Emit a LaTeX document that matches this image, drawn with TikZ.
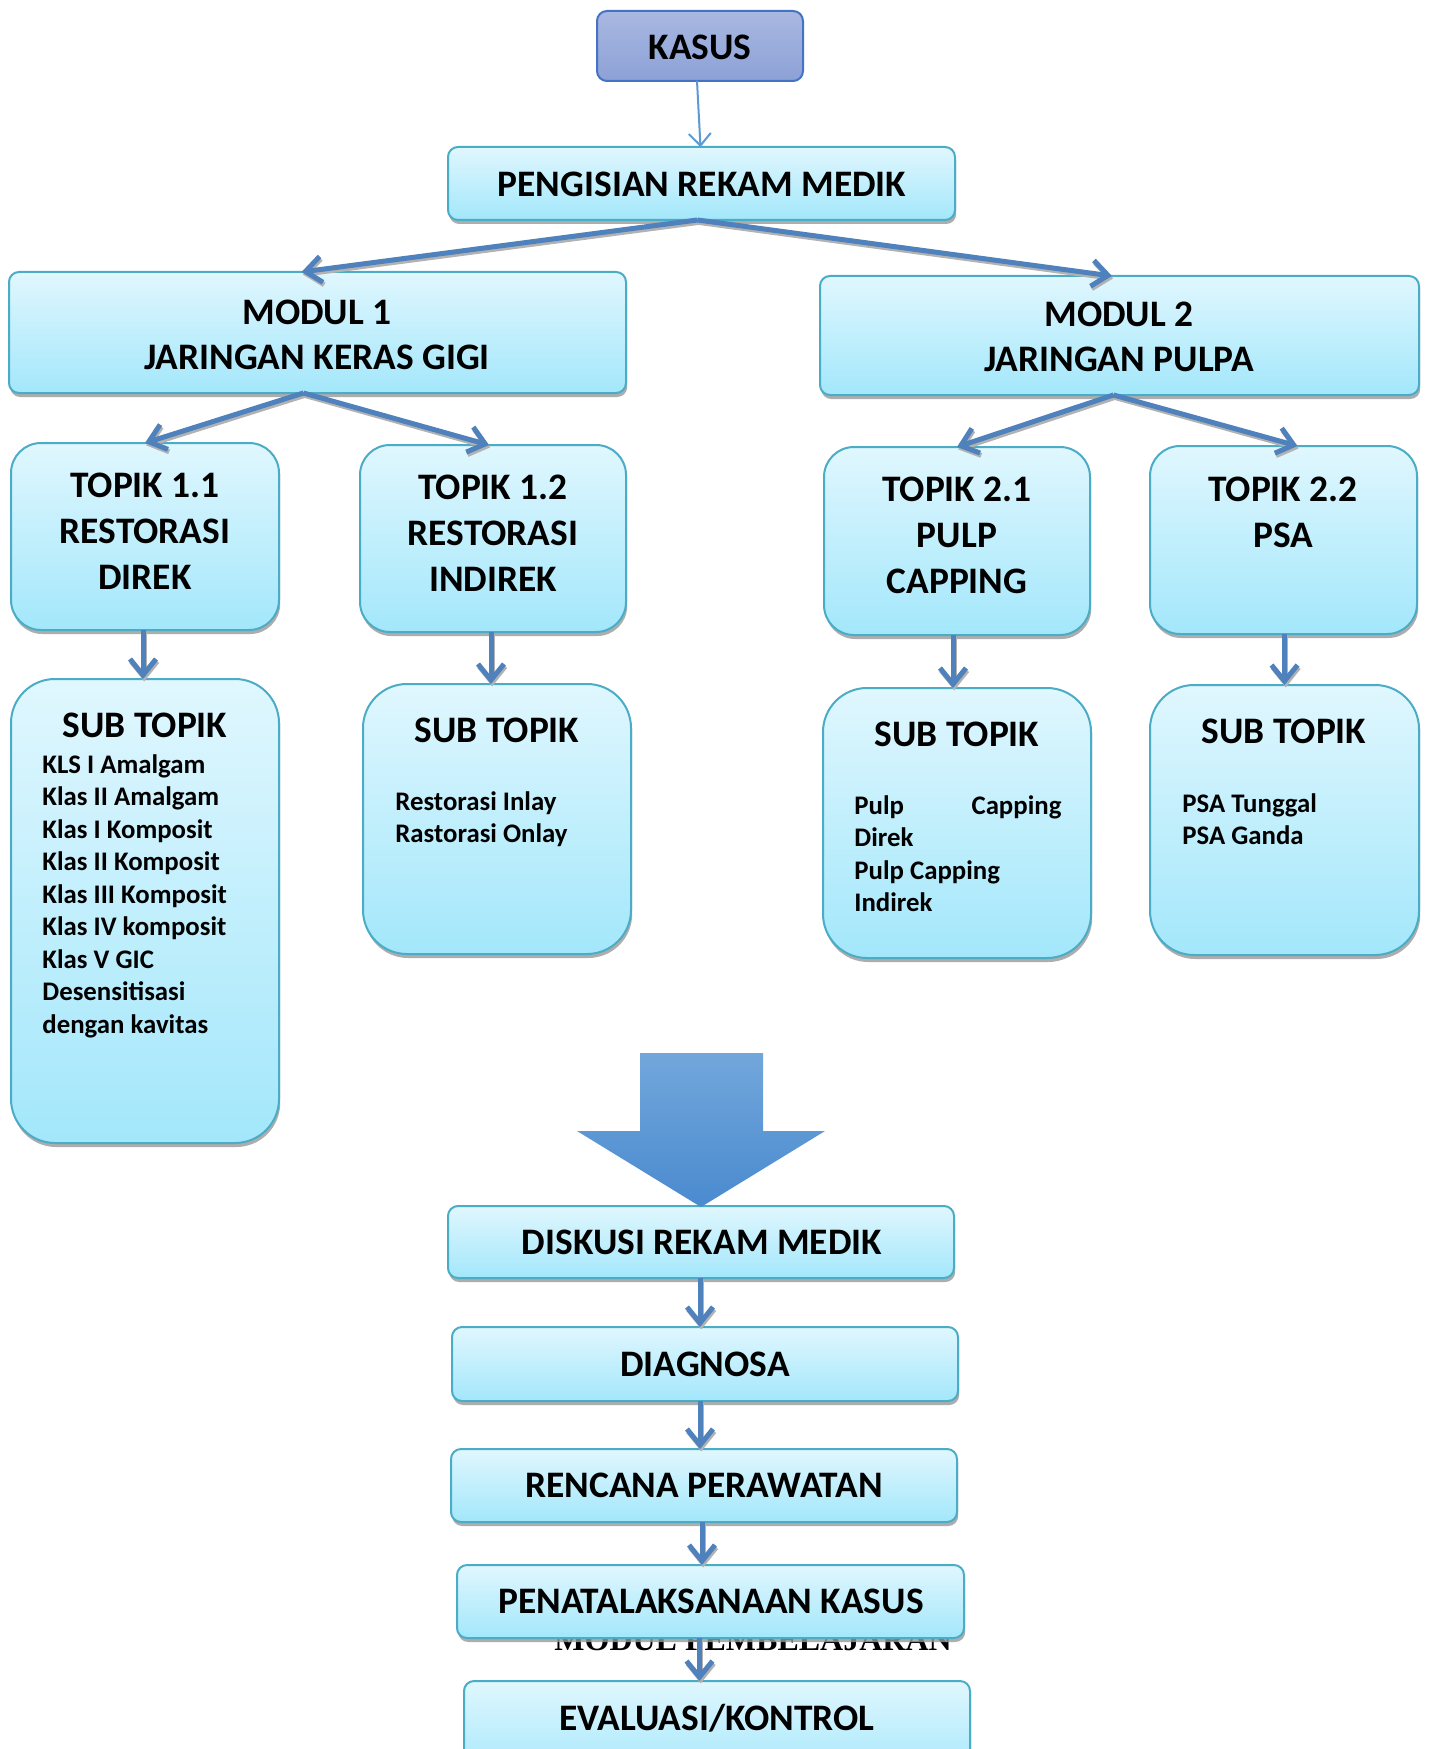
\documentclass[tikz,border=0pt]{standalone}
\usepackage{fontspec}
\setmainfont{Carlito}
\newfontfamily\serifbold{Liberation Serif}
\usetikzlibrary{arrows.meta,shadows,fit,calc}
\definecolor{boxtop}{HTML}{E0F7FE}
\definecolor{boxbot}{HTML}{A3E7FB}
\definecolor{boxline}{HTML}{4BACC6}
\definecolor{arrowblue}{HTML}{4F81BD}
\definecolor{kastop}{HTML}{A9B8E1}
\definecolor{kasbot}{HTML}{8CA1D7}
\definecolor{kasline}{HTML}{4472C4}
\definecolor{thinblue}{HTML}{5B9BD5}
\definecolor{bigtop}{HTML}{72A7DB}
\definecolor{bigbot}{HTML}{4A8ACF}
\begin{document}
\begin{tikzpicture}[x=0.5pt,y=-0.5pt,
  boxbase/.style={draw=boxline, line width=1pt, top color=boxtop, bottom color=boxbot,
    inner sep=0pt, outer sep=0pt,
    drop shadow={shadow xshift=0.6pt, shadow yshift=-2pt, fill=black!40, opacity=0.8}},
  mainbox/.style={boxbase, rounded corners=5pt},
  topicbox/.style={boxbase, rounded corners=15pt},
  subbox/.style={boxbase, rounded corners=22pt},
  kasusbox/.style={draw=kasline, line width=1pt, top color=kastop, bottom color=kasbot,
    inner sep=0pt, outer sep=0pt, rounded corners=5pt},
  title/.style={font=\bfseries\fontsize{18.7}{22.8}\selectfont, align=center, inner sep=0pt},
  item/.style={font=\bfseries\fontsize{13.4}{16.25}\selectfont, align=left, inner sep=0pt, anchor=north west},
  thick arrow/.style={draw=arrowblue, line width=2.5pt,
    -{Straight Barb[length=8pt,width=13pt]},
    preaction={draw=black!30, line width=2.5pt, transform canvas={xshift=0.6pt,yshift=-1.2pt}}},
  thin arrow/.style={draw=thinblue, line width=1pt, -{Straight Barb[length=6pt,width=11pt]}},
  bigarrow/.style={top color=bigtop, bottom color=bigbot, draw=none}
]
\useasboundingbox (0,0) rectangle (1429,1749);
\fill[white] (0,0) rectangle (1429,1749);
\clip (0,0) rectangle (1429,1749);

% hidden header text behind box
\node[font=\serifbold\bfseries\fontsize{16}{18}\selectfont, anchor=base west, inner sep=0pt] (hdr) at (554,1650) {MODUL PEMBELAJARAN};

% boxes
\node[kasusbox, fit={(597,11)(803,81)}] (kasus) {};
\node[mainbox, fit={(448,147)(955,220)}] (peng) {};
\node[mainbox, fit={(9,272)(626,393)}] (m1) {};
\node[mainbox, fit={(820,276)(1419,395)}] (m2) {};
\node[topicbox, fit={(11,443)(279,630)}] (t11) {};
\node[topicbox, fit={(360,445)(626,632)}] (t12) {};
\node[topicbox, fit={(824,447)(1090,635)}] (t21) {};
\node[topicbox, fit={(1150,446)(1417,634)}] (t22) {};
\node[subbox, fit={(11,679)(279,1143)}] (s11) {};
\node[subbox, fit={(363,684)(631,954)}] (s12) {};
\node[subbox, fit={(823,688)(1091,958)}] (s21) {};
\node[subbox, fit={(1150,685)(1419,955)}] (s22) {};
\node[mainbox, fit={(448,1206)(954,1278)}] (disk) {};
\node[mainbox, fit={(452,1327)(958,1401)}] (diag) {};
\node[mainbox, fit={(451,1449)(957,1522)}] (renc) {};
\node[mainbox, fit={(457,1565)(964,1638)}] (pena) {};
\node[mainbox, fit={(464,1681)(970,1780)}] (eval) {};

% big arrow
\path[bigarrow] (640,1053) -- (763,1053) -- (763,1131) -- (825,1131) -- (701,1207)
  -- (577,1131) -- (640,1131) -- cycle;

% texts
\node[title] (tkasus) at (700,47) {KASUS};
\node[title] (tpeng) at (702,184) {PENGISIAN REKAM MEDIK};
\node[title] (tm1) at (317,335) {MODUL 1\\JARINGAN KERAS GIGI};
\node[title] (tm2) at (1119,337) {MODUL 2\\JARINGAN PULPA};
\node[title, anchor=north] (tt11) at (145,473) {TOPIK 1.1\\RESTORASI\\DIREK};
\node[title, anchor=north] (tt12) at (493,475) {TOPIK 1.2\\RESTORASI\\INDIREK};
\node[title, anchor=north] (tt21) at (957,477) {TOPIK 2.1\\PULP\\CAPPING};
\node[title, anchor=north] (tt22) at (1283,477) {TOPIK 2.2\\PSA};
\node[title] (st11) at (145,725) {SUB TOPIK};
\node[title] (st12) at (497,730) {SUB TOPIK};
\node[title] (st21) at (957,734) {SUB TOPIK};
\node[title] (st22) at (1284,731) {SUB TOPIK};
\node[item] (i11) at (42,754) {KLS I Amalgam\\Klas II Amalgam\\Klas I Komposit\\Klas II Komposit\\Klas III Komposit\\Klas IV komposit\\Klas V GIC\\Desensitisasi\\dengan kavitas};
\node[item] (i12) at (395,791) {Restorasi Inlay\\Rastorasi Onlay};
\node[item] (i21) at (854,795) {\makebox[103.5pt][s]{Pulp\hfill Capping}\\Direk\\Pulp Capping\\Indirek};
\node[item] (i22) at (1182,793) {PSA Tunggal\\PSA Ganda};
\node[title] (tdisk) at (702,1242) {DISKUSI REKAM MEDIK};
\node[title] (tdiag) at (705,1364) {DIAGNOSA};
\node[title] (trenc) at (704,1485) {RENCANA PERAWATAN};
\node[title] (tpena) at (711,1601) {PENATALAKSANAAN KASUS};
\node[title] (teval) at (717,1718) {EVALUASI/KONTROL};

% connectors
\draw[thin arrow] ([xshift=-1.5pt]kasus.south) -- ([xshift=-0.5pt]peng.north);
\draw[thick arrow] ([xshift=-2pt]peng.south) -- ([xshift=-8pt]m1.north);
\draw[thick arrow] ([xshift=-2pt]peng.south) -- ([xshift=-3.75pt]m2.north);
\draw[thick arrow] ([xshift=-7pt]m1.south) -- (t11.north);
\draw[thick arrow] ([xshift=-7pt]m1.south) -- ([xshift=-2pt]t12.north);
\draw[thick arrow] ([xshift=-3pt]m2.south) -- (t21.north);
\draw[thick arrow] ([xshift=-3pt]m2.south) -- ([xshift=7pt]t22.north);
\draw[thick arrow] ([xshift=-1pt]t11.south) -- ([xshift=-1pt]t11.south |- s11.north);
\draw[thick arrow] ([xshift=-1pt]t12.south) -- ([xshift=-1pt]t12.south |- s12.north);
\draw[thick arrow] ([xshift=-2pt]t21.south) -- ([xshift=-2pt]t21.south |- s21.north);
\draw[thick arrow] ([xshift=0.5pt]t22.south) -- ([xshift=0.5pt]t22.south |- s22.north);
\draw[thick arrow] ([xshift=-0.5pt]disk.south) -- ([xshift=-0.5pt]disk.south |- diag.north);
\draw[thick arrow] ([xshift=-2.5pt]diag.south) -- ([xshift=-2.5pt]diag.south |- renc.north);
\draw[thick arrow] ([xshift=-1pt]renc.south) -- ([xshift=-1pt]renc.south |- pena.north);
\draw[thick arrow] ([xshift=-5.5pt]pena.south) -- ([xshift=-5.5pt]pena.south |- eval.north);
\end{tikzpicture}
\end{document}
